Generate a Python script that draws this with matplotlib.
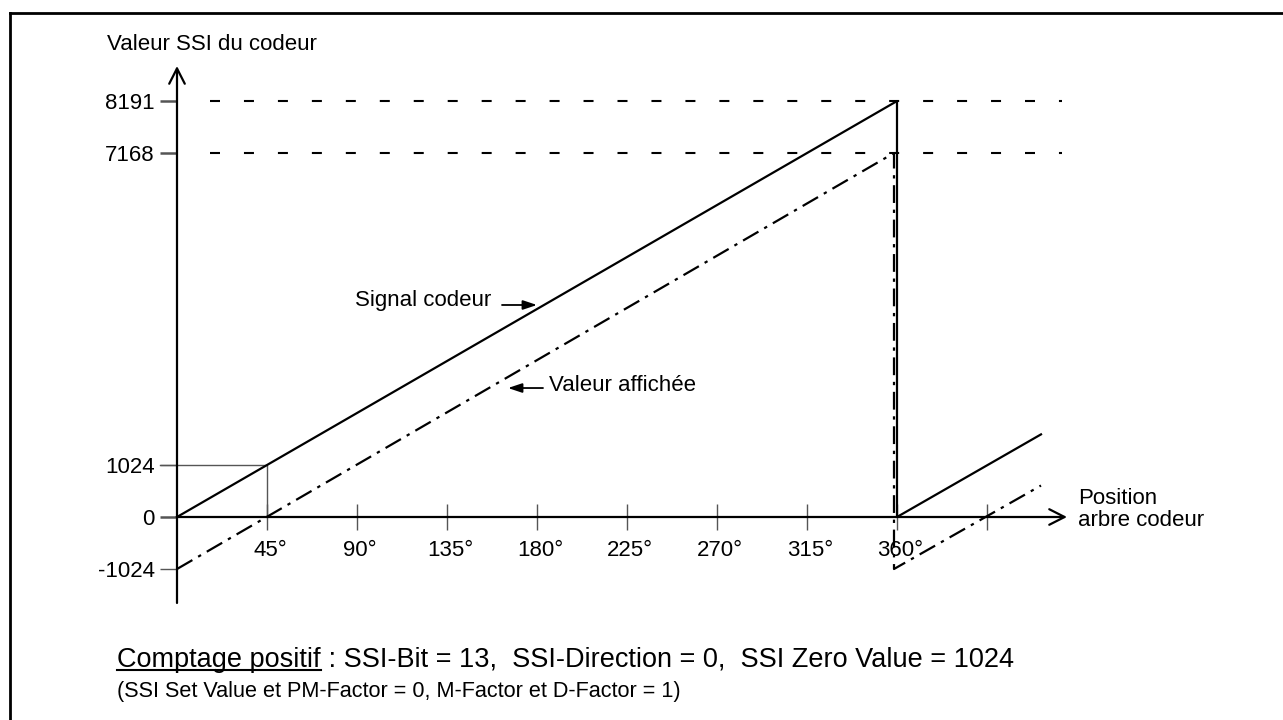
import matplotlib
matplotlib.use("Agg")
import matplotlib.pyplot as plt
import matplotlib.transforms as mtransforms
from matplotlib.lines import Line2D

plt.rcParams['font.family'] = ['Liberation Sans', 'DejaVu Sans']

# signal brut du codeur et valeur affichee (decalee de SSI Zero Value)
pos_signal = [0, 360, 360, 432]
val_signal = [0, 8191, 0, 1627]
pos_affiche = [0, 358.5, 358.5, 432]
val_affiche = [-1024, 7168, -1024, 620]

y_ticks = [-1024, 0, 1024, 7168, 8191]
x_ticks = [45, 90, 135, 180, 225, 270, 315, 360, 405]
x_labels = ['45°', '90°', '135°', '180°', '225°', '270°', '315°', '360°', '']
niveaux = [8191, 7168]
zero_value = 1024
angle_zero = 45

W, H = 1283, 720
fig = plt.figure(figsize=(W / 100, H / 100), dpi=100)
ax = fig.add_axes([0, 0, 1, 1])
ax.set_xlim(-88.5, 553)
ax.set_ylim(-3997.5, 10181)
ax.patch.set_visible(False)

for s in ax.spines.values():
    s.set_visible(False)
ax.spines['left'].set_position(('data', 0))
ax.spines['bottom'].set_position(('data', 0))

ax.set_yticks(y_ticks)
ax.set_yticklabels([str(v) for v in y_ticks])
ax.set_xticks(x_ticks)
ax.set_xticklabels(x_labels)
ax.tick_params(axis='y', direction='out', length=12, width=1, color='#555555',
               pad=4, labelsize=16, right=False)
ax.tick_params(axis='x', direction='inout', length=19, width=1, color='#555555',
               pad=7, labelsize=16, top=False)
for t, v in zip(ax.yaxis.get_major_ticks(), y_ticks):
    if v in (0, 7168, 8191):
        t.tick1line.set_markeredgewidth(1.8)
        t.tick1line.set_color('black')
# le signe degre decale le texte : on recentre les chiffres sur le tick
shift = mtransforms.ScaledTranslation(3 / 100, 0, fig.dpi_scale_trans)
for lbl in ax.get_xticklabels():
    lbl.set_transform(lbl.get_transform() + shift)

# axes avec fleches
arr = dict(arrowstyle='->,head_length=0.55,head_width=0.28', lw=1.6,
           color='black', shrinkA=0, shrinkB=0, mutation_scale=20)
ax.annotate('', xy=(0, 8881), xytext=(0, -1693), arrowprops=arr)
ax.annotate('', xy=(445, 0), xytext=(0, 0), arrowprops=arr)

# niveaux max en tirets
for v in niveaux:
    ax.plot([16.5, 442.5], [v, v], color='black', lw=1.5,
            linestyle=(0, (4.8, 11.5)), solid_capstyle='butt')

# repere 1024 / 45°
ax.plot([-8.5, angle_zero, angle_zero], [zero_value, zero_value, 0],
        color='#555555', lw=1)

ax.plot(pos_signal, val_signal, color='black', lw=1.6)
ax.plot(pos_affiche, val_affiche, color='black', lw=1.6,
        linestyle=(0, (8, 3, 1.5, 3)))

ax.text(-35, 9300, 'Valeur SSI du codeur', fontsize=16, va='center', ha='left')
ax.text(450.5, 150, 'Position\narbre codeur', fontsize=16, va='center',
        ha='left', linespacing=1.1)

ax.text(89, 4273, 'Signal codeur', fontsize=16, va='center', ha='left')
ax.annotate('', xy=(180, 4175), xytext=(162.5, 4175),
            arrowprops=dict(arrowstyle='-|>,head_length=0.6,head_width=0.2',
                            lw=1.3, color='black', shrinkA=0, shrinkB=0,
                            mutation_scale=14))
ax.text(186, 2599, 'Valeur affichée', fontsize=16, va='center', ha='left')
ax.annotate('', xy=(165.5, 2540), xytext=(183, 2540),
            arrowprops=dict(arrowstyle='-|>,head_length=0.6,head_width=0.2',
                            lw=1.3, color='black', shrinkA=0, shrinkB=0,
                            mutation_scale=14))

# cadre
fig.add_artist(Line2D([10 / W, 1], [1 - 13 / H, 1 - 13 / H], color='black', lw=2))
fig.add_artist(Line2D([10 / W, 10 / W], [0, 1 - 13 / H], color='black', lw=2))

# legende du bas
cond = ['Liberation Sans Narrow', 'DejaVu Sans Condensed', 'Liberation Sans']
y1 = 1 - 667 / H
t1 = fig.text(117 / W, y1, 'Comptage positif', fontsize=19.5, family=cond,
              va='baseline', ha='left')
fig.canvas.draw()
bb = t1.get_window_extent(fig.canvas.get_renderer())
fig.text(bb.x1 / W, y1, ' : SSI-Bit = 13,  SSI-Direction = 0,  SSI Zero Value = 1024',
         fontsize=19.5, family=cond, va='baseline', ha='left')
fig.add_artist(Line2D([bb.x0 / W, bb.x1 / W], [y1 - 3 / H, y1 - 3 / H],
                      color='black', lw=1.5))
fig.text(117 / W, 1 - 697 / H,
         '(SSI Set Value et PM-Factor = 0, M-Factor et D-Factor = 1)',
         fontsize=15.6, family=cond, va='baseline', ha='left')

fig.savefig('out.png', dpi=100)
